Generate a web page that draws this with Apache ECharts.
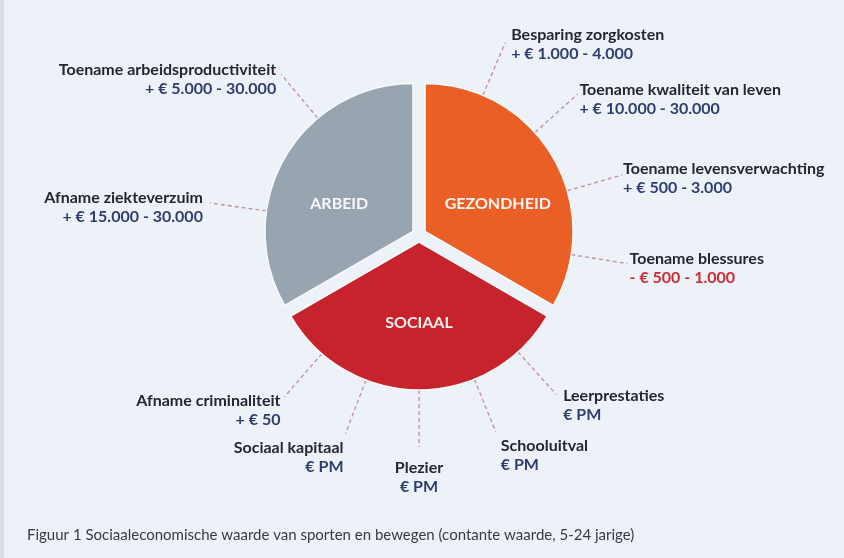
<!DOCTYPE html>
<html>
<head>
<meta charset="utf-8">
<script src="https://cdn.jsdelivr.net/npm/echarts@6/dist/echarts.min.js"></script>
<style>
html, body { margin: 0; padding: 0; background: #edf2f8; }
#chart { width: 844px; height: 558px; }
</style>
</head>
<body>
<div id="chart"></div>
<script>
// ---------- DATA ----------
const groups = ['GEZONDHEID', 'SOCIAAL', 'ARBEID'];
const groupShares = [1, 1, 1];
const effects = [
  'Besparing zorgkosten', 'Toename kwaliteit van leven', 'Toename levensverwachting', 'Toename blessures',
  'Leerprestaties', 'Schooluitval', 'Plezier', 'Sociaal kapitaal', 'Afname criminaliteit',
  'Afname ziekteverzuim', 'Toename arbeidsproductiviteit'
];
const effectValues = [
  '+ € 1.000 - 4.000', '+ € 10.000 - 30.000', '+ € 500 - 3.000', '- € 500 - 1.000',
  '€ PM', '€ PM', '€ PM', '€ PM', '+ € 50',
  '+ € 15.000 - 30.000', '+ € 5.000 - 30.000'
];
const effectGroup = [0, 0, 0, 0, 1, 1, 1, 1, 1, 2, 2];
const caption = 'Figuur 1 Sociaaleconomische waarde van sporten en bewegen (contante waarde, 5-24 jarige)';

// ---------- LAYOUT / STYLE ----------
const CX = 419, CY = 235, R = 148, OFF = 7;
const groupColors = ['#e95f26', '#c6232d', '#98a4b0'];
// where each leader line leaves the pie (degrees clockwise from 12 o'clock)
const leaderAngle = [23, 48, 74, 99, 138, 158, 180, 201, 221, 278, 320];
// label placement relative to leader end: [dx, dy, align]
const labelNudge = [
  [6, 2, 'left'], [2, 5, 'left'], [1, 3, 'left'], [2, 5, 'left'],
  [7, 11, 'left'], [5, 23, 'left'], [0, 30, 'center'], [-2, 24, 'right'], [-4, 14, 'right'],
  [-7, 4, 'right'], [-5, 5, 'right']
];
// horizontal padding [top, right, bottom, left] and spacer height (vertical nudge x2) for slice titles
const groupLabelPad = [[0, 0, 0, 12], [0, 0, 0, 0], [0, 14, 0, 0]];
const groupLabelSpacer = [22, 8, 22];
const FONT = 'Lato';
const FS = 16, LH = 19;

const rad = Math.PI / 180;
const total = groupShares.reduce((a, b) => a + b, 0);

const series = [];
series.push({
  type: 'pie',
  center: [CX, CY],
  radius: R,
  startAngle: 90,
  clockwise: true,
  selectedMode: 'multiple',
  selectedOffset: OFF,
  avoidLabelOverlap: false,
  silent: true,
  emphasis: { disabled: true },
  itemStyle: { borderColor: '#f7f9fc', borderWidth: 1.5 },
  select: { itemStyle: { borderColor: '#f7f9fc', borderWidth: 1.5 } },
  labelLine: { show: false },
  data: groups.map((g, i) => ({
    name: g, value: groupShares[i], selected: true,
    itemStyle: { color: groupColors[i] },
    label: {
      show: true, position: 'inside',
      padding: groupLabelPad[i],
      formatter: '{s| }\n{t|' + g + '}',
      rich: {
        s: { fontSize: 1, height: groupLabelSpacer[i], lineHeight: groupLabelSpacer[i] },
        t: { color: 'rgba(255,255,255,0.93)', fontFamily: FONT, fontWeight: 'bold', fontSize: 16, lineHeight: 18 }
      }
    }
  }))
});

const maps = [];
let acc = 0;
groups.forEach((g, gi) => {
  const start = 360 * acc / total;
  acc += groupShares[gi];
  const end = 360 * acc / total;
  const bis = (start + end) / 2;
  const gcx = CX + OFF * Math.sin(bis * rad);
  const gcy = CY - OFF * Math.cos(bis * rad);
  const data = [];
  const map = {};
  let prev = start;
  effects.forEach((name, k) => {
    if (effectGroup[k] !== gi) return;
    data.push({ value: leaderAngle[k] - 0.5 - prev, name: '', itemStyle: { color: 'rgba(0,0,0,0)' }, label: { show: false }, labelLine: { show: false } });
    map[data.length] = k;
    const n = labelNudge[k];
    const neg = effectValues[k].trim().charAt(0) === '-';
    data.push({
      value: 1, name: name,
      itemStyle: { color: 'rgba(0,0,0,0)' },
      label: {
        show: true,
        formatter: '{n|' + name + '}\n{' + (neg ? 'r' : 'v') + '|' + effectValues[k] + '}',
        rich: {
          n: { fontFamily: FONT, fontWeight: 'bold', fontSize: FS, color: '#25262e', lineHeight: LH, align: n[2] },
          v: { fontFamily: FONT, fontWeight: 'bold', fontSize: FS, color: '#2e3d6d', lineHeight: LH, align: n[2] },
          r: { fontFamily: FONT, fontWeight: 'bold', fontSize: FS, color: '#cc2a31', lineHeight: LH, align: n[2] }
        }
      }
    });
    prev = leaderAngle[k] + 0.5;
  });
  data.push({ value: 360 - (prev - start), name: '', itemStyle: { color: 'rgba(0,0,0,0)' }, label: { show: false }, labelLine: { show: false } });
  maps.push(map);
  series.push({
    type: 'pie',
    center: [gcx, gcy],
    radius: R,
    startAngle: (90 - start + 360) % 360,
    clockwise: true,
    avoidLabelOverlap: false,
    silent: true,
    emphasis: { disabled: true },
    label: { show: true, position: 'outside' },
    labelLine: { show: true, length: 57, length2: 1, smooth: false, lineStyle: { color: '#c4959f', width: 1.4, type: [4, 3] } },
    labelLayout: function (p) {
      const k = maps[p.seriesIndex - 1][p.dataIndex];
      const pts = p.labelLinePoints;
      if (k === undefined || !pts) return {};
      const e = pts[1];
      const n = labelNudge[k];
      return { x: e[0] + n[0], y: e[1] + n[1], align: n[2], verticalAlign: 'middle', labelLinePoints: [pts[0], pts[1]] };
    },
    data: data
  });
});

const chart = echarts.init(document.getElementById('chart'), null, { renderer: 'canvas' });
chart.setOption({
  backgroundColor: '#edf2f8',
  animation: false,
  title: {
    text: caption, left: 22, top: 523,
    textStyle: { fontFamily: FONT, fontWeight: 'normal', fontSize: 15, color: '#3a3a3f' }
  },
  graphic: [{ type: 'rect', left: 0, top: 0, shape: { width: 4, height: 558 }, style: { fill: '#d9dee5' }, silent: true }],
  series: series
});
</script>
</body>
</html>
